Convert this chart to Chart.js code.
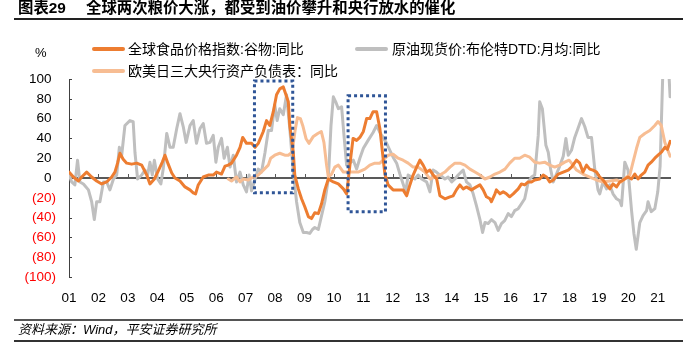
<!DOCTYPE html>
<html><head><meta charset="utf-8">
<script src="https://cdn.jsdelivr.net/npm/chart.js@4.4.1/dist/chart.umd.min.js"></script>
<style>
html,body{margin:0;padding:0;background:#fff;}
body{width:683px;height:350px;position:relative;overflow:hidden;font-family:"Liberation Sans","Noto Sans CJK SC",sans-serif;}
#c{position:absolute;left:0;top:0;}
.t{position:absolute;white-space:nowrap;color:#000;}
.ln{position:absolute;}
</style></head>
<body>
<canvas id="c" width="683" height="350"></canvas>
<div class="t" style="left:18px;top:0px;font-size:15.4px;line-height:16px;font-weight:bold;">图表29</div>
<div class="t" style="left:86px;top:0px;font-size:15.4px;line-height:16px;font-weight:bold;">全球两次粮价大涨，都受到油价攀升和央行放水的催化</div>
<div class="ln" style="left:14px;top:17.5px;width:669px;height:2px;background:#222;"></div>

<div class="t" style="left:35px;top:45px;font-size:13px;line-height:16px;">%</div>
<div class="ln" style="left:92px;top:46.5px;width:33px;height:4px;border-radius:2px;background:#ED7D31;"></div>
<div class="t" style="left:128px;top:41px;font-size:14px;line-height:16px;">全球食品价格指数:谷物:同比</div>
<div class="ln" style="left:355px;top:46.5px;width:33px;height:4px;border-radius:2px;background:#BFBFBF;"></div>
<div class="t" style="left:392px;top:41px;font-size:14px;line-height:16px;">原油现货价:布伦特DTD:月均:同比</div>
<div class="ln" style="left:92px;top:68.5px;width:33px;height:4px;border-radius:2px;background:#F7BD93;"></div>
<div class="t" style="left:128px;top:62.5px;font-size:14px;line-height:16px;">欧美日三大央行资产负债表：同比</div>

<div class="ln" style="left:14px;top:319px;width:669px;height:2px;background:#555;"></div>
<div class="t" style="left:18px;top:322px;font-size:13px;line-height:16px;font-style:italic;">资料来源：Wind，平安证券研究所</div>
<div class="ln" style="left:14px;top:340px;width:669px;height:1.5px;background:#333;"></div>

<script>
// ---- data (decimal year, % yoy) ----
const yearLabels = ['01','02','03','04','05','06','07','08','09','10','11','12','13','14','15','16','17','18','19','20','21'];

const grainDates = [2001.00,2001.15,2001.32,2001.43,2001.60,2001.77,2001.94,2002.11,2002.28,2002.45,2002.56,2002.65,2002.73,2002.84,2002.96,2003.13,2003.30,2003.47,2003.64,2003.75,2003.90,2004.03,2004.17,2004.26,2004.37,2004.49,2004.60,2004.77,2004.94,2005.11,2005.22,2005.30,2005.39,2005.56,2005.73,2005.90,2006.01,2006.18,2006.30,2006.41,2006.52,2006.69,2006.81,2006.90,2007.03,2007.20,2007.32,2007.43,2007.60,2007.71,2007.82,2007.94,2008.05,2008.16,2008.28,2008.37,2008.45,2008.50,2008.62,2008.67,2008.79,2008.90,2009.01,2009.13,2009.24,2009.35,2009.47,2009.58,2009.69,2009.81,2009.98,2010.15,2010.32,2010.43,2010.49,2010.58,2010.65,2010.77,2010.88,2011.00,2011.11,2011.22,2011.33,2011.45,2011.56,2011.67,2011.73,2011.84,2012.01,2012.18,2012.35,2012.47,2012.58,2012.69,2012.81,2012.92,2013.03,2013.15,2013.26,2013.37,2013.49,2013.60,2013.77,2013.94,2014.05,2014.16,2014.28,2014.39,2014.50,2014.67,2014.84,2014.96,2015.07,2015.18,2015.30,2015.35,2015.47,2015.52,2015.64,2015.75,2015.86,2015.97,2016.09,2016.26,2016.37,2016.48,2016.60,2016.71,2016.82,2016.99,2017.11,2017.22,2017.33,2017.45,2017.62,2017.79,2017.96,2018.07,2018.24,2018.35,2018.46,2018.58,2018.69,2018.80,2018.92,2019.03,2019.14,2019.26,2019.37,2019.48,2019.60,2019.71,2019.88,2019.99,2020.11,2020.22,2020.33,2020.44,2020.56,2020.67,2020.78,2020.90,2021.01,2021.12,2021.24,2021.33,2021.42];
const grainValues = [6,1,-3,1,6,1,-3,-6,-4,1,6,15,25,19,15,14,15,13,3,-6,-1,7,16,23,14,5,0,-3,-9,-12,-15,-16,-7,1,3,3,6,4,12,13,15,23,31,41,35,35,31,35,47,58,53,67,84,90,92,84,77,53,26,3,-11,-21,-29,-39,-41,-35,-36,-26,-12,-1,-4,-6,-11,-16,-1,23,40,38,41,47,60,60,67,67,50,20,4,-7,-12,-12,-12,-18,-7,3,11,18,13,6,8,3,-1,-18,-21,-19,-18,-12,-7,-11,-9,-12,-9,-7,-12,-19,-21,-24,-16,-12,-16,-14,-16,-19,-16,-11,-6,-7,-4,-4,-2,-1,3,1,-4,-2,4,6,8,11,18,15,6,13,9,8,6,1,-2,-7,-11,-6,-9,-4,-1,1,-1,4,-1,3,6,13,16,20,23,26,31,29,37];

const oilDates = [2001.00,2001.09,2001.20,2001.29,2001.37,2001.49,2001.66,2001.77,2001.86,2001.94,2002.05,2002.17,2002.28,2002.39,2002.51,2002.62,2002.71,2002.79,2002.90,2003.07,2003.18,2003.24,2003.33,2003.47,2003.58,2003.67,2003.75,2003.83,2003.90,2004.01,2004.12,2004.20,2004.32,2004.43,2004.54,2004.66,2004.77,2004.88,2004.98,2005.11,2005.22,2005.33,2005.45,2005.56,2005.67,2005.79,2005.90,2005.99,2006.07,2006.18,2006.27,2006.38,2006.47,2006.58,2006.69,2006.81,2006.92,2007.03,2007.12,2007.20,2007.32,2007.43,2007.54,2007.66,2007.77,2007.88,2007.99,2008.07,2008.16,2008.28,2008.39,2008.50,2008.62,2008.73,2008.84,2008.96,2009.07,2009.18,2009.27,2009.35,2009.47,2009.58,2009.69,2009.81,2009.90,2009.98,2010.06,2010.15,2010.26,2010.35,2010.43,2010.54,2010.66,2010.77,2010.88,2011.00,2011.16,2011.33,2011.45,2011.56,2011.67,2011.79,2011.90,2012.01,2012.13,2012.24,2012.35,2012.44,2012.52,2012.64,2012.75,2012.86,2012.98,2013.15,2013.26,2013.37,2013.48,2013.60,2013.77,2013.88,2014.00,2014.11,2014.22,2014.39,2014.50,2014.62,2014.73,2014.84,2014.96,2015.05,2015.13,2015.24,2015.35,2015.47,2015.58,2015.69,2015.80,2015.92,2016.03,2016.14,2016.26,2016.37,2016.48,2016.60,2016.71,2016.82,2016.94,2016.99,2017.08,2017.20,2017.28,2017.36,2017.45,2017.56,2017.67,2017.79,2017.88,2017.96,2018.07,2018.18,2018.29,2018.41,2018.52,2018.63,2018.75,2018.86,2018.97,2019.03,2019.14,2019.26,2019.37,2019.48,2019.60,2019.71,2019.77,2019.88,2019.99,2020.11,2020.19,2020.27,2020.39,2020.50,2020.62,2020.67,2020.78,2020.90,2021.00,2021.08,2021.17,2021.25,2021.33,2021.42];
const oilValues = [4,-4,-7,18,-4,-6,-12,-24,-42,-24,-24,-4,-4,-12,-1,3,31,23,53,58,57,26,-1,3,8,3,16,3,18,-1,-6,9,45,31,31,50,65,52,36,53,58,35,50,55,35,36,43,16,31,40,20,31,11,23,-4,6,-7,-14,3,-13,-1,9,6,26,48,48,74,58,70,64,84,50,6,-24,-45,-55,-55,-56,-52,-50,-52,-38,-24,-1,53,82,77,70,72,40,13,15,18,9,20,30,38,46,53,46,41,35,28,21,15,4,-6,-14,3,1,-1,3,-1,-4,-14,8,6,3,-1,1,-4,-1,3,8,-4,-7,-16,-28,-42,-55,-45,-46,-42,-45,-53,-46,-43,-36,-39,-33,-31,-26,-21,-4,1,3,43,77,70,33,26,9,-4,4,12,22,40,23,28,41,50,60,52,41,41,9,-12,-16,-4,-11,-7,-16,-21,-23,-28,16,8,-33,-56,-72,-45,-38,-33,-24,-34,-31,-14,12,104,250,133,82];

const cbDates = [2006.41,2006.52,2006.69,2006.81,2006.92,2007.09,2007.26,2007.43,2007.60,2007.77,2007.85,2007.99,2008.16,2008.33,2008.45,2008.58,2008.68,2008.76,2008.86,2008.95,2009.05,2009.15,2009.30,2009.45,2009.57,2009.66,2009.75,2009.81,2009.92,2010.03,2010.15,2010.32,2010.49,2010.65,2010.82,2011.05,2011.22,2011.39,2011.56,2011.67,2011.84,2012.01,2012.18,2012.35,2012.52,2012.69,2012.86,2013.09,2013.26,2013.43,2013.60,2013.77,2013.94,2014.11,2014.28,2014.45,2014.62,2014.79,2014.96,2015.13,2015.30,2015.47,2015.64,2015.81,2015.97,2016.14,2016.31,2016.48,2016.65,2016.82,2016.99,2017.16,2017.33,2017.50,2017.67,2017.84,2017.99,2018.07,2018.24,2018.46,2018.69,2018.92,2019.14,2019.37,2019.60,2019.77,2019.94,2020.05,2020.16,2020.28,2020.39,2020.56,2020.73,2020.90,2021.01,2021.12,2021.24,2021.42];
const cbValues = [-1,-3,1,-4,-1,-2,1,3,8,13,20,23,25,23,23,26,48,61,60,52,40,35,42,45,47,36,13,1,4,11,13,6,6,6,6,9,13,15,15,18,23,24,20,18,15,11,11,6,-1,1,3,6,11,15,15,13,9,6,3,-1,1,4,6,9,15,20,20,23,21,16,15,16,13,11,13,16,18,15,8,4,1,-2,-4,-3,-2,-4,1,3,16,30,41,45,48,53,57,53,36,22];

// highlighted periods (data units)
const highlightBoxes = [
  {x0: 2007.30, x1: 2008.60, y0: -15, y1: 98},
  {x0: 2010.48, x1: 2011.75, y0: -34, y1: 83}
];

const yearTicks = yearLabels.map(l => 2000 + parseInt(l, 10));
const toPts = (xs, ys) => xs.map((x, i) => ({x: x, y: ys[i]}));

const decor = {
  id: 'decor',
  beforeDatasetsDraw(chart) {
    const {ctx, scales: {x, y}, chartArea} = chart;
    ctx.save();
    ctx.strokeStyle = '#404040';
    ctx.lineWidth = 1;
    for (let v = -100; v <= 100; v += 20) {
      const py = Math.round(y.getPixelForValue(v)) + 0.5;
      ctx.beginPath();
      ctx.moveTo(chartArea.left, py);
      ctx.lineTo(chartArea.left + 3, py);
      ctx.stroke();
    }
    const zy = y.getPixelForValue(0);
    ctx.strokeStyle = '#595959';
    yearTicks.forEach(v => {
      if (v === 2001) return;
      const px = Math.round(x.getPixelForValue(v)) + 0.5;
      ctx.beginPath();
      ctx.moveTo(px, zy - 4);
      ctx.lineTo(px, zy);
      ctx.stroke();
    });
    ctx.restore();
  },
  afterDatasetsDraw(chart) {
    const {ctx, scales: {x, y}} = chart;
    ctx.save();
    ctx.strokeStyle = '#2F5597';
    ctx.lineWidth = 3;
    ctx.setLineDash([3, 3]);
    highlightBoxes.forEach(b => {
      const l = x.getPixelForValue(b.x0), r = x.getPixelForValue(b.x1);
      const t = y.getPixelForValue(b.y1), btm = y.getPixelForValue(b.y0);
      ctx.strokeRect(l, t, r - l, btm - t);
    });
    ctx.restore();
  }
};

const tickFont = {family: '"Liberation Sans", Arial, sans-serif', size: 13.5};

new Chart(document.getElementById('c'), {
  type: 'line',
  data: {
    datasets: [
      {label: '全球食品价格指数:谷物:同比', data: toPts(grainDates, grainValues), borderColor: '#ED7D31', borderWidth: 3, pointRadius: 0, borderJoinStyle: 'round', borderCapStyle: 'round'},
      {label: '欧美日三大央行资产负债表：同比', data: toPts(cbDates, cbValues), borderColor: '#F7BD93', borderWidth: 3, pointRadius: 0, borderJoinStyle: 'round', borderCapStyle: 'round'},
      {label: '原油现货价:布伦特DTD:月均:同比', data: toPts(oilDates, oilValues), borderColor: '#BFBFBF', borderWidth: 3, pointRadius: 0, borderJoinStyle: 'round', borderCapStyle: 'round'}
    ]
  },
  options: {
    responsive: false,
    animation: false,
    devicePixelRatio: 1,
    layout: {padding: {top: 79, right: 12, bottom: 0, left: 0}},
    plugins: {legend: {display: false}, tooltip: {enabled: false}},
    scales: {
      x: {
        type: 'linear', min: 2001, max: 2021.45,
        afterBuildTicks: s => { s.ticks = yearTicks.map(v => ({value: v})); },
        afterFit: s => { s.height = 73; },
        ticks: {callback: (v, i) => yearLabels[i], color: '#000', font: tickFont, padding: 13, maxRotation: 0, autoSkip: false},
        grid: {display: false, drawTicks: false},
        border: {display: false}
      },
      y: {
        min: -100, max: 100,
        afterFit: s => { s.width = 69; },
        ticks: {
          stepSize: 20,
          callback: v => v < 0 ? '(' + (-v) + ')' : v + '\u2004',
          color: c => c.tick && c.tick.value < 0 ? '#FF0000' : '#000',
          font: tickFont, padding: 13
        },
        grid: {
          drawTicks: false,
          color: c => c.tick && c.tick.value === 0 ? '#595959' : 'rgba(0,0,0,0)',
          lineWidth: c => c.tick && c.tick.value === 0 ? 2 : 0
        },
        border: {display: true, color: '#404040', width: 1}
      }
    }
  },
  plugins: [decor]
});
</script>
</body></html>
